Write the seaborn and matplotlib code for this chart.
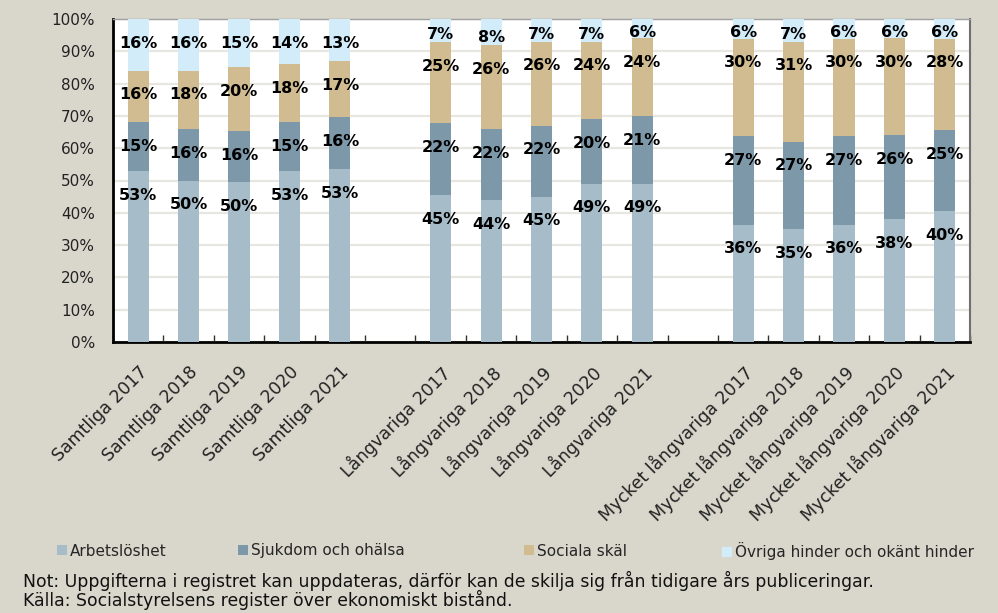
import numpy as np
import pandas as pd
import matplotlib
matplotlib.use("Agg")
import matplotlib.pyplot as plt
import seaborn as sns
from matplotlib.patches import Patch

categories = ["Samtliga 2017", "Samtliga 2018", "Samtliga 2019", "Samtliga 2020", "Samtliga 2021",
              "Långvariga 2017", "Långvariga 2018", "Långvariga 2019", "Långvariga 2020", "Långvariga 2021",
              "Mycket långvariga 2017", "Mycket långvariga 2018", "Mycket långvariga 2019",
              "Mycket långvariga 2020", "Mycket långvariga 2021"]
series = ["Arbetslöshet", "Sjukdom och ohälsa", "Sociala skäl", "Övriga hinder och okänt hinder"]
arbetsloshet = [53, 50, 50, 53, 53, 45, 44, 45, 49, 49, 36, 35, 36, 38, 40]
sjukdom = [15, 16, 16, 15, 16, 22, 22, 22, 20, 21, 27, 27, 27, 26, 25]
sociala = [16, 18, 20, 18, 17, 25, 26, 26, 24, 24, 30, 31, 30, 30, 28]
ovriga = [16, 16, 15, 14, 13, 7, 8, 7, 7, 6, 6, 7, 6, 6, 6]
colors = ["#A6BCC8", "#7D98A9", "#D1BC91", "#D3ECFA"]
note1 = "Not: Uppgifterna i registret kan uppdateras, därför kan de skilja sig från tidigare års publiceringar."
note2 = "Källa: Socialstyrelsens register över ekonomiskt bistånd."

bg = "#D9D7CC"
sns.set_theme(style="white")
plt.rcParams["font.family"] = ["DejaVu Sans"]

vals = np.array([arbetsloshet, sjukdom, sociala, ovriga], dtype=float)
totals = vals.sum(axis=0)
shares = vals / totals * 100
cum = np.cumsum(shares, axis=0)

order = categories[:5] + [" "] + categories[5:10] + ["  "] + categories[10:]

fig = plt.figure(figsize=(9.98, 6.13), dpi=100, facecolor=bg)
ax = fig.add_axes([113 / 998, 1 - 342 / 613, (970 - 113) / 998, (342 - 19) / 613])
ax.set_facecolor("white")

for i in range(3, -1, -1):
    df = pd.DataFrame({"cat": categories, "val": cum[i]})
    sns.barplot(data=df, x="cat", y="val", order=order, color=colors[i],
                width=0.42, saturation=1, ax=ax, zorder=3, linewidth=0)

# data labels
pos = {c: order.index(c) for c in categories}
for i in range(4):
    for j, c in enumerate(categories):
        top = cum[i, j]
        seg = shares[i, j]
        y = top - min(7.5, 0.7 * seg)
        ax.text(pos[c], y, f"{int(vals[i, j])}%", ha="center", va="center",
                fontsize=11.5, fontweight="bold", color="black", zorder=5)

ax.set_xlim(-0.5, len(order) - 0.5)
ax.set_ylim(0, 100)
ax.set_yticks(np.arange(0, 101, 10))
ax.set_yticklabels([f"{v}%" for v in range(0, 101, 10)], fontsize=11, color="#222222")
ax.yaxis.grid(True, color="#E8E6E0", linewidth=1.6, zorder=0)
ax.set_axisbelow(True)
ax.set_xlabel("")
ax.set_ylabel("")

ax.set_xticks(range(len(order)))
ax.set_xticklabels(order, rotation=45, ha="right", rotation_mode="anchor", fontsize=12.5, color="#222222")
ax.set_xticks(np.arange(-0.5, len(order), 1), minor=True)
ax.tick_params(axis="x", which="major", length=0, pad=15)
ax.tick_params(axis="x", which="minor", direction="in", length=5, width=1, color="#333333", bottom=True)
ax.tick_params(axis="y", length=0, pad=13)

for s in ["left", "bottom"]:
    ax.spines[s].set_color("black")
    ax.spines[s].set_linewidth(2)
ax.spines["right"].set_color("#707070")
ax.spines["right"].set_linewidth(1.5)
ax.spines["top"].set_color("#A0A0A0")
ax.spines["top"].set_linewidth(1)

# legend entries
xs = [63, 244, 530, 728]
for x, s, c in zip(xs, series, colors):
    fig.legend(handles=[Patch(facecolor=c, edgecolor="none")], labels=[s],
               loc="center left", bbox_to_anchor=(x / 998 - 0.006, 1 - 551 / 613),
               frameon=False, fontsize=11, handlelength=0.65, handleheight=0.65,
               handletextpad=0.2, borderpad=0, borderaxespad=0)

fig.text(23 / 998, 1 - 581 / 613, note1, fontsize=12.4, va="center", ha="left", color="#111111")
fig.text(23 / 998, 1 - 600 / 613, note2, fontsize=12.4, va="center", ha="left", color="#111111")

fig.savefig("out.png", dpi=100, facecolor=bg)
